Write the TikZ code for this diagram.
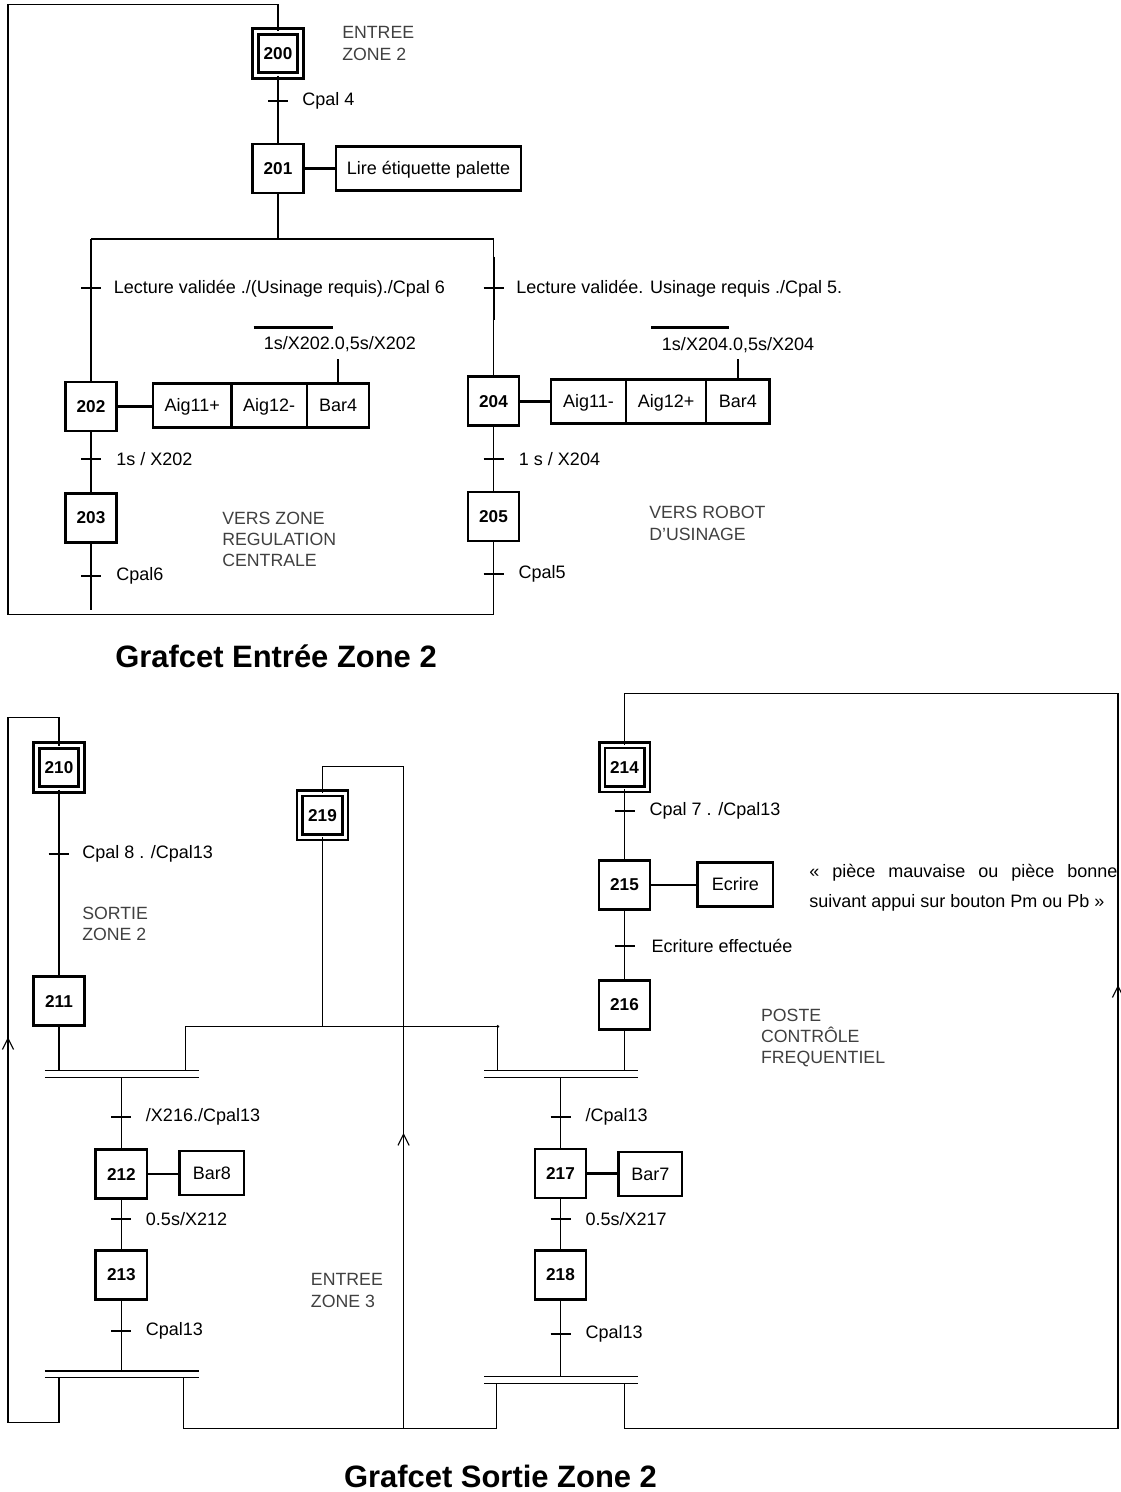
\documentclass[tikz,border=0pt]{standalone}
\usepackage{fontspec}
\setmainfont{Liberation Sans}
\usetikzlibrary{positioning,arrows.meta}

\tikzset{
  etape/.style={draw, fill=white, line width=0.07cm, minimum width=1.275cm, minimum height=1.225cm,
    inner sep=0pt, outer sep=0pt, font=\fontsize{12.2}{14}\selectfont\bfseries},
  etapeinit/.style={etape, double, double distance=0.075cm, line width=0.065cm,
    minimum width=1.125cm, minimum height=1.1cm},
  action/.style={draw, line width=0.065cm, minimum height=1.1cm, inner sep=0pt, outer sep=0pt,
    text height=9.2pt, text depth=0pt, font=\fontsize{12.8}{15}\selectfont},
  synchro/.style={minimum width=3.85cm, minimum height=0.16cm, inner sep=0pt, outer sep=0pt},
  lien/.style={line width=0.0625cm},
  liaison/.style={line width=0.028cm},
  trans/.style={line width=0.05cm},
  recept/.style={font=\fontsize{12.8}{15}\selectfont, inner sep=0pt, anchor=west},
  commentaire/.style={font=\fontsize{12.6}{15}\selectfont, text=black!75, inner sep=0pt,
    anchor=west, align=left},
  titre/.style={font=\fontsize{22}{26}\selectfont\bfseries, inner sep=0pt, anchor=base},
  fleche/.style={line width=0.028cm, -{Straight Barb[length=0.28cm, width=0.28cm]}},
}

\begin{document}
\begin{tikzpicture}[x=0.025cm,y=-0.025cm]
\useasboundingbox (0,0) rectangle (1120,1492);

% ---- Grafcet Entree Zone 2
\node[etapeinit] (s200) at (278,53.5) {200};
\node[etape] (s201) at (278,168.5) {201};
\node[action, minimum width=4.63cm] (a201) at (428.5,168.5) {Lire étiquette palette};
\node[etape] (s202) at (91,406.5) {202};
\node[action, minimum width=1.96cm] (a202a) at (192.2,405.5) {Aig11+};
\node[action, minimum width=1.89cm, right=0cm of a202a] (a202b) {Aig12-};
\node[action, minimum width=1.55cm, right=0cm of a202b] (a202c) {Bar4};
\node[etape] (s203) at (91,518) {203};
\node[etape] (s204) at (493.5,401.3) {204};
\node[action, minimum width=1.875cm] (a204a) at (588.5,401.3) {Aig11-};
\node[action, minimum width=2cm, right=0cm of a204a] (a204b) {Aig12+};
\node[action, minimum width=1.59cm, right=0cm of a204b] (a204c) {Bar4};
\node[etape] (s205) at (493.5,516.5) {205};

\coordinate (div) at (278,239);
\coordinate (divg) at (91,239);
\coordinate (divd) at (493.5,239);
\coordinate (fin203) at (91,610);
\coordinate (bas205) at (493.5,614.3);

\draw[liaison] (s200) -- (s201);
\draw[liaison] (s201) -- (div);
\draw[liaison] (divg) -- (divd);
\draw[liaison] (divg) -- (s202);
\draw[liaison] (divd) -- (s204);
\draw[liaison] (s202) -- (s203);
\draw[liaison] (s204) -- (s205);
\draw[liaison] (s203) -- (fin203);
\draw[liaison] (s205) -- (bas205) -- (8,614.3) -- (8,4.3) -| (s200);

\draw[lien] (s201.east) -- (a201.west);
\draw[lien] (s202.east) -- (s202.east -| a202a.west);
\draw[lien] (s204.east) -- (a204a.west);

% transitions
\coordinate (t200) at (278,101);
\draw[trans] (t200) +(-10,0) -- +(10,0);
\node[recept] (r200) at (302,101) {Cpal 4};
\coordinate (t201g) at (91,288.3);
\draw[trans] (t201g) +(-10,0) -- +(10,0);
\draw[trans] (t201g) +(0,-31.6) -- +(0,31.7);
\node[recept] (r201g) at (113.6,288.3) {Lecture validée ./(Usinage requis)./Cpal 6};
\coordinate (t201d) at (493.5,288.3);
\draw[trans] (t201d) +(-10,0) -- +(10,0);
\draw[trans] (t201d) +(0,-31.6) -- +(0,31.7);
\node[recept] (r201d) at (516,288.3) {Lecture validée. Usinage requis ./Cpal 5.};
\coordinate (t202) at (91,458.7);
\draw[trans] (t202) +(-10,0) -- +(10,0);
\node[recept] (r202) at (116,458.7) {1s / X202};
\coordinate (t204) at (493.5,458.7);
\draw[trans] (t204) +(-10,0) -- +(10,0);
\node[recept] (r204) at (518.7,458.7) {1 s / X204};
\coordinate (t203) at (91,575.7);
\draw[trans] (t203) +(-10,0) -- +(10,0);
\node[recept] (r203) at (116,575.7) {Cpal6};
\coordinate (t205) at (493.5,574);
\draw[trans] (t205) +(-10,0) -- +(10,0);
\node[recept] (r205) at (518.3,574) {Cpal5};

% conditions sur Bar4
\draw[lien] (253.6,327.3) -- (333,327.3);
\node[recept] (c202) at (263.6,344) {1s/X202.0,5s/X202};
\draw[lien] (a202c.north) -- ++(0,-24);
\draw[lien] (651,327.3) -- (728.7,327.3);
\node[recept] (c204) at (661.7,345) {1s/X204.0,5s/X204};
\draw[lien] (a204c.north) -- ++(0,-20);

\node[commentaire] (n200) at (342,43.5) {ENTREE\\ZONE 2};
\node[commentaire] (n203) at (222,539.7) {VERS ZONE\\REGULATION\\CENTRALE};
\node[commentaire] (n205) at (649,523.4) {VERS ROBOT\\D’USINAGE};

\node[titre] (titre1) at (276,667) {Grafcet Entrée Zone 2};

% ---- Grafcet Sortie Zone 2
\node[etapeinit] (s210) at (59,767.5) {210};
\node[etape] (s211) at (59,1001) {211};
\node[etapeinit] (s219) at (322.5,815.3) {219};
\node[etapeinit] (s214) at (624.5,767.3) {214};
\node[etape] (s215) at (624.5,884.8) {215};
\node[action, minimum width=1.88cm] (a215) at (735.3,884.2) {Ecrire};
\node[etape] (s216) at (624.5,1004.8) {216};
\node[etape] (s212) at (121.4,1174) {212};
\node[action, minimum width=1.61cm] (a212) at (211.8,1173) {Bar8};
\node[etape] (s213) at (121.4,1275) {213};
\node[etape] (s217) at (560.5,1173.5) {217};
\node[action, minimum width=1.575cm] (a217) at (650.3,1173.8) {Bar7};
\node[etape] (s218) at (560.5,1275) {218};

% doubles traits de synchronisation
\node[synchro] (b1) at (122,1074) {};
\node[synchro] (b2) at (561.3,1074) {};
\node[synchro] (b3) at (122,1374.2) {};
\node[synchro] (b4) at (561.3,1380) {};
\foreach \b in {b1,b2,b3,b4}
  \draw[liaison] (\b.north west) -- (\b.north east) (\b.south west) -- (\b.south east);

\coordinate (jg) at (185.3,1026.4);
\coordinate (jd) at (497.8,1026.4);
\coordinate (j219) at (322.5,1026.4);
\coordinate (bg) at (183.6,1428.3);
\coordinate (bd) at (496.4,1428.3);
\coordinate (b219) at (403.6,1428.3);
\coordinate (h219) at (403.6,766.7);
\coordinate (bdr) at (624.7,1428.3);

\draw[liaison] (s210) -- (s211);
\draw[liaison] (s211) -- (s211 |- b1.north);
\draw[liaison] (s219) -- (j219);
\draw[liaison] (jg) -- (jd);
\fill (jd) circle[radius=0.04cm];
\draw[liaison] (jg) -- (jg |- b1.north);
\draw[liaison] (jd) -- (jd |- b2.north);
\draw[liaison] (s214) -- (s215);
\draw[liaison] (s215) -- (s216);
\draw[liaison] (s216) -- (s216 |- b2.north);
\draw[liaison] (s212 |- b1.south) -- (s212);
\draw[liaison] (s212) -- (s213);
\draw[liaison] (s213) -- (s213 |- b3.north);
\draw[liaison] (s217 |- b2.south) -- (s217);
\draw[liaison] (s217) -- (s218);
\draw[liaison] (s218) -- (s218 |- b4.north);

% retours
\draw[liaison] (s210 |- b3.south) -- ++(0,45) -| (8,717.3) -| (s210);
\draw[liaison] (bg |- b3.south) -- (bg) -- (bd) -- (bd |- b4.south);
\draw[liaison] (b219) -- (h219) -| (s219);
\draw[liaison] (bdr |- b4.south) -- (bdr) -- (1118,1428.3) -- (1118,693.3) -| (s214);
\draw[trans] (8,993) -- (8,1161);
\draw[trans] (1118,961) -- (1118,1104);
\draw[fleche] (8,1050) -- (8,1037);
\draw[fleche] (403.6,1146) -- (403.6,1133);
\draw[fleche] (1118,998) -- (1118,985);

\draw[lien] (s215.east) -- (s215.east -| a215.west);
\draw[lien] (s212.east) -- (s212.east -| a212.west);
\draw[lien] (s217.east) -- (s217.east -| a217.west);

% transitions
\coordinate (t210) at (58.6,853.7);
\draw[trans] (t210) +(-10,0) -- +(10,0);
\node[recept] (r210) at (82,853.7) {Cpal 8 . /Cpal13};
\coordinate (t214) at (624.5,811);
\draw[trans] (t214) +(-10,0) -- +(10,0);
\node[recept] (r214) at (649.4,811) {Cpal 7 . /Cpal13};
\coordinate (t215) at (624.5,946);
\draw[trans] (t215) +(-10,0) -- +(10,0);
\node[recept] (r215) at (651.4,946) {Ecriture effectuée};
\coordinate (t211) at (121.4,1117.3);
\draw[trans] (t211) +(-10,0) -- +(10,0);
\node[recept] (r211) at (145.7,1117.3) {/X216./Cpal13};
\coordinate (t212) at (121.4,1219.3);
\draw[trans] (t212) +(-10,0) -- +(10,0);
\node[recept] (r212) at (145.7,1219.3) {0.5s/X212};
\coordinate (t213) at (121.4,1331);
\draw[trans] (t213) +(-10,0) -- +(10,0);
\node[recept] (r213) at (145.7,1331) {Cpal13};
\coordinate (t216) at (560.5,1117.3);
\draw[trans] (t216) +(-10,0) -- +(10,0);
\node[recept] (r216) at (585.3,1117.3) {/Cpal13};
\coordinate (t217) at (560.5,1219.3);
\draw[trans] (t217) +(-10,0) -- +(10,0);
\node[recept] (r217) at (585.3,1219.3) {0.5s/X217};
\coordinate (t218) at (560.5,1334);
\draw[trans] (t218) +(-10,0) -- +(10,0);
\node[recept] (r218) at (585.3,1334) {Cpal13};

\node[commentaire] (n210) at (82,924) {SORTIE\\ZONE 2};
\node[commentaire] (n216) at (760.8,1038) {POSTE\\CONTRÔLE\\FREQUENTIEL};
\node[commentaire] (n219) at (310.7,1290.5) {ENTREE\\ZONE 3};
\node[recept, align=left, font=\fontsize{12.8}{21.3}\selectfont] (n215) at (809,887.7)
  {\makebox[7.7cm][s]{« pièce mauvaise ou pièce bonne}\\suivant appui sur bouton Pm ou Pb »};

\node[titre] (titre2) at (500.5,1487) {Grafcet Sortie Zone 2};
\end{tikzpicture}
\end{document}
